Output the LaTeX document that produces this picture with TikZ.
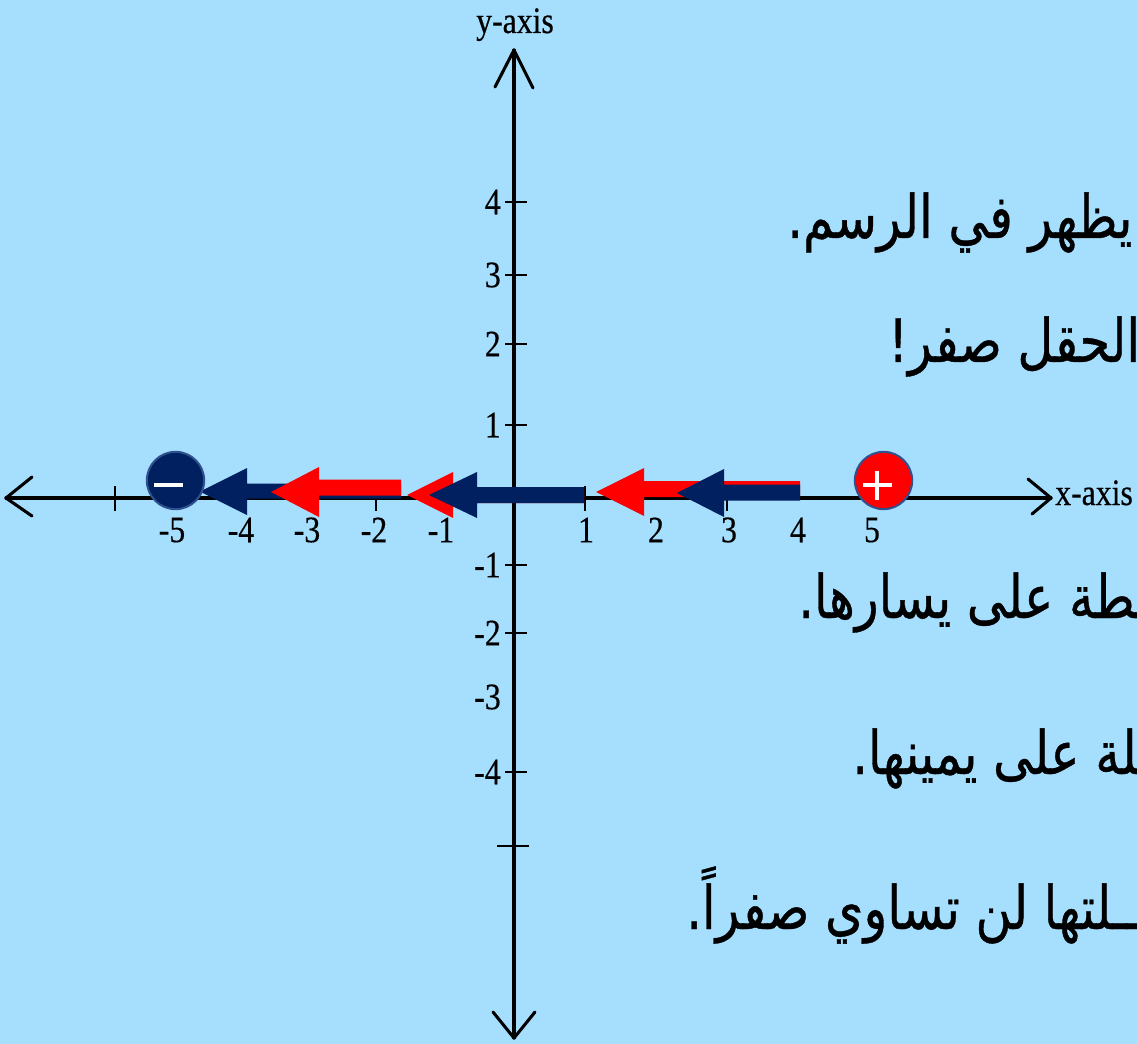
\documentclass[tikz,border=0pt]{standalone}
\usepackage{fontspec}
\setmainfont{Liberation Serif}
\newfontfamily\arabicfont[Script=Arabic,FakeStretch=0.82,FakeBold=0.6]{DejaVu Sans}
\newfontfamily\axisfont[FakeStretch=0.85,FakeBold=0.4]{Liberation Serif}
\TeXXeTstate=1
\definecolor{bg}{RGB}{166,222,254}
\definecolor{navy}{RGB}{0,32,96}
\definecolor{rimblue}{RGB}{47,82,143}
\definecolor{fieldred}{RGB}{255,0,0}
% block arrow: colour, tip x, head-base x, tail x, head centre y, head half height, shaft centre y, shaft half thickness
\newcommand\blockarrow[8]{%
  \fill[#1] (#2,#5) -- (#3,{#5-#6}) -- (#3,{#7-#8}) -- (#4,{#7-#8})
    -- (#4,{#7+#8}) -- (#3,{#7+#8}) -- (#3,{#5+#6}) -- cycle;}
\begin{document}
\begin{tikzpicture}[x=0.75pt,y=-0.75pt,
  axisline/.style={black,line width=2.3pt,line cap=round,line join=round},
  tickline/.style={black,line width=1.4pt},
  numlabel/.style={inner sep=0pt,font=\axisfont\fontsize{28}{28}\selectfont},
  arabic/.style={inner sep=0pt,anchor=base west,font=\arabicfont\fontsize{45}{50}\selectfont},
  charge/.style={circle,draw=rimblue,line width=1.5pt,minimum size=43pt,inner sep=0pt},
  signline/.style={white,line width=2.6pt}]
\useasboundingbox (0,0) rectangle (1137,1044);
\clip (0,0) rectangle (1137,1044);
\fill[bg] (0,0) rectangle (1137,1044);

% axes
\coordinate (xl) at (6,498);
\coordinate (xr) at (1051,498);
\coordinate (yt) at (514,50);
\coordinate (yb) at (514,1038);
\draw[axisline] (xl) -- (xr);
\draw[axisline] (yt) -- (yb);
\draw[axisline] (32,477) -- (xl) -- (32,516);
\draw[axisline] (1028,479) -- (xr) -- (1032,514);
\draw[axisline] (495,87) -- (yt) -- (533,88);
\draw[axisline] (493,1012) -- (yb) -- (535,1012);

% x ticks
\foreach \t in {115,376,585,727}
  \draw[tickline] (\t,486) -- (\t,511);
% y ticks
\foreach \t in {202,275,344,425,565,633,772}
  \draw[tickline] (505,\t) -- (527,\t);
\draw[tickline] (497,846) -- (529,846);

% x labels
\node[numlabel] (xm5) at (172,530) {-5};
\node[numlabel] (xm4) at (241,530) {-4};
\node[numlabel] (xm3) at (307,530) {-3};
\node[numlabel] (xm2) at (374,530) {-2};
\node[numlabel] (xm1) at (441,530) {-1};
\node[numlabel] (xp1) at (586,530) {1};
\node[numlabel] (xp2) at (656,530) {2};
\node[numlabel] (xp3) at (729,530) {3};
\node[numlabel] (xp4) at (798,530) {4};
\node[numlabel] (xp5) at (872,530) {5};
% y labels
\node[numlabel,anchor=east] (yp4) at (501,202) {4};
\node[numlabel,anchor=east] (yp3) at (501,275) {3};
\node[numlabel,anchor=east] (yp2) at (501,344) {2};
\node[numlabel,anchor=east] (yp1) at (501,425) {1};
\node[numlabel,anchor=east] (ym1) at (501,565) {-1};
\node[numlabel,anchor=east] (ym2) at (501,633) {-2};
\node[numlabel,anchor=east] (ym3) at (501,697) {-3};
\node[numlabel,anchor=east] (ym4) at (501,772) {-4};
% axis names
\node[numlabel,anchor=base] (yname) at (515,33) {y-axis};
\node[numlabel,anchor=base west] (xname) at (1055,505) {x-axis};

% field arrows
\blockarrow{fieldred}{596}{644}{800}{492}{24}{489}{8}
\blockarrow{navy}{677}{724}{800}{493}{24}{492.5}{8}
\blockarrow{fieldred}{407}{453}{584}{495}{23}{495}{8}
\blockarrow{navy}{429}{477}{584}{495}{23}{495}{8}
\blockarrow{navy}{200}{247}{401}{491.5}{23.5}{491}{7.5}
\blockarrow{fieldred}{271}{319}{401}{492}{25}{487.5}{8}

% charges
\node[charge,fill=navy] (neg) at (175.5,480.5) {};
\draw[signline] (154,485) -- (183,485);
\node[charge,fill=fieldred] (pos) at (883.5,480.5) {};
\draw[signline] (863,485) -- (892,485);
\draw[signline] (877,471) -- (877,500);

% Arabic text
\node[arabic] (t1) at (787,238) {\beginR يظهر في الرسم.\endR};
\node[arabic] (t2) at (888,362) {\beginR الحقل صفر!\endR};
\node[arabic] (t3) at (798,618) {\beginR ــــطة على يسارها.\endR};
\node[arabic] (t4) at (852,774) {\beginR ــــلة على يمينها.\endR};
\node[arabic] (t5) at (686,929) {\beginR ــــلتها لن تساوي صفراً.\endR};
\end{tikzpicture}
\end{document}
